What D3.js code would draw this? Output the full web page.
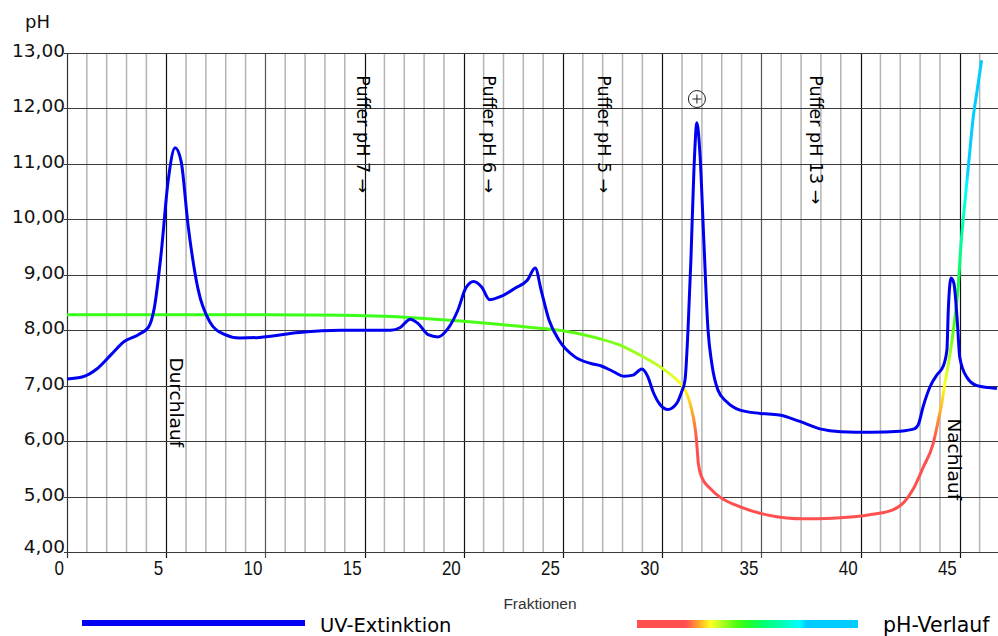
<!DOCTYPE html>
<html>
<head>
<meta charset="utf-8">
<script src="https://cdn.jsdelivr.net/npm/d3@7"></script>
<style>
  body { margin: 0; background: #fff; }
  svg { display: block; }
</style>
</head>
<body>
<svg id="chart"></svg>
<script>
// UV-Extinktion (blue): fraction -> value on the pH scale
const uvFrac = [0, 0.8, 1.5, 2.2, 2.9, 3.6, 4.1, 4.4, 4.75, 5.1, 5.45, 5.75, 6.1, 6.6, 7.2, 7.9, 8.7, 9.7, 11.7, 13.8,
  16.3, 16.8, 17.3, 17.7, 18.2, 18.7, 19.2, 19.7, 20.1, 20.5, 20.9, 21.3, 21.8, 22.6, 23.2, 23.6, 23.9, 24.3, 24.8, 25.6,
  26.4, 26.9, 27.5, 28.1, 28.53, 28.97, 29.28, 29.54, 29.89, 30.29, 30.73, 30.98, 31.15, 31.3, 31.45, 31.6, 31.75, 31.9, 32.1, 32.31,
  32.5, 32.81, 33.25, 33.92, 34.93, 35.9, 36.9, 37.95, 39.0, 40.5, 42.0, 42.7, 42.9, 43.15, 43.5, 43.9, 44.15, 44.35, 44.42, 44.56,
  44.7, 44.86, 45.0, 45.36, 45.87, 46.87];
const uvVal = [7.12, 7.16, 7.3, 7.55, 7.8, 7.92, 8.05, 8.4, 9.4, 10.7, 11.29, 11.05, 9.9, 8.75, 8.15, 7.93, 7.86, 7.87, 7.96, 8.0,
  8.0, 8.05, 8.2, 8.12, 7.92, 7.88, 8.03, 8.36, 8.76, 8.88, 8.78, 8.55, 8.6, 8.76, 8.9, 9.12, 8.72, 8.18, 7.82, 7.52,
  7.4, 7.36, 7.26, 7.17, 7.19, 7.3, 7.16, 6.89, 6.66, 6.57, 6.68, 6.89, 7.1, 8.0, 9.3, 10.9, 11.74, 11.2, 9.6, 8.0,
  7.4, 6.92, 6.71, 6.56, 6.5, 6.47, 6.36, 6.22, 6.17, 6.16, 6.18, 6.22, 6.29, 6.62, 6.98, 7.22, 7.34, 7.64, 8.36, 8.94,
  8.85, 8.23, 7.51, 7.15, 7.0, 6.95];

// pH-Verlauf (gradient line)
const phFrac = [0, 5, 10, 14, 16, 18, 20, 22, 24, 25.5, 26.8, 27.87, 28.88, 29.89, 30.65, 31.05, 31.3, 31.49, 31.65, 31.73,
  31.82, 31.99, 32.41, 32.91, 33.75, 34.93, 35.43, 37.1, 38.6, 40.6, 41.63, 42.2, 42.66, 43.16, 43.66, 43.92, 44.09, 44.25, 44.51, 44.76,
  44.93, 45.05, 45.17, 45.35, 45.51, 45.68, 45.85, 46.1];
const phVal = [8.28, 8.28, 8.28, 8.27, 8.25, 8.21, 8.16, 8.1, 8.03, 7.96, 7.85, 7.73, 7.55, 7.34, 7.13, 6.98, 6.8, 6.56, 6.26, 6.01,
  5.6, 5.35, 5.15, 4.99, 4.84, 4.7, 4.66, 4.6, 4.61, 4.68, 4.76, 4.9, 5.14, 5.53, 5.96, 6.38, 6.68, 7.04, 7.58, 8.24,
  8.84, 9.5, 10.0, 10.65, 11.25, 11.85, 12.27, 12.87];

// colour of the pH line by pH value
const colorPh = [4, 6.0, 6.35, 6.7, 7.0, 7.5, 8.0, 8.5, 9.2, 10.0, 10.6, 10.9, 13];
const colorHex = ["#ff5050", "#ff5050", "#ff8833", "#ffcc22", "#ffff22", "#aaff22", "#55ff11", "#22ff22", "#00ff77", "#00ffbb", "#00ffff", "#00ccff", "#00ccff"];

const xTicks = [0, 5, 10, 15, 20, 25, 30, 35, 40, 45];
const yTicks = [4, 5, 6, 7, 8, 9, 10, 11, 12, 13];

// rotated annotations
const noteText = ["Puffer pH 7 \u2192", "Puffer pH 6 \u2192", "Puffer pH 5 \u2192", "Puffer pH 13 \u2192", "Durchlauf", "Nachlauf"];
const noteFrac = [14.6, 20.97, 26.76, 37.45, 5.19, 44.4];
const notePh = [12.6, 12.6, 12.6, 12.6, 7.51, 6.41];

const markerPos = [31.75, 12.17];

class PhChart {

  constructor(_config) {
    this.config = {
      parentElement: _config.parentElement,
      containerWidth: _config.containerWidth || 998,
      containerHeight: _config.containerHeight || 636,
      margin: { top: 53, bottom: 84, right: 0, left: 67 }
    }
    this.initVis();
  }

  initVis() {
    let vis = this;

    vis.width = vis.config.containerWidth - vis.config.margin.left - vis.config.margin.right;
    vis.height = vis.config.containerHeight - vis.config.margin.top - vis.config.margin.bottom;

    vis.svg = d3.select(vis.config.parentElement)
        .attr('width', vis.config.containerWidth)
        .attr('height', vis.config.containerHeight);

    vis.chart = vis.svg.append('g')
        .attr('transform', `translate(${vis.config.margin.left},${vis.config.margin.top})`);

    vis.xScale = d3.scaleLinear()
        .domain([0, 47])
        .range([0, 19.84 * 47]);

    vis.yScale = d3.scaleLinear()
        .domain([4, 13])
        .range([vis.height, 0]);

    const fmt = d3.formatLocale({ decimal: ",", thousands: ".", grouping: [3], currency: ["", ""] }).format(".2f");

    // minor vertical grid
    vis.chart.append('g')
      .selectAll('line')
      .data(d3.range(1, 47).filter(d => d % 5 != 0))
      .join('line')
        .attr('x1', d => vis.xScale(d))
        .attr('x2', d => vis.xScale(d))
        .attr('y1', 0)
        .attr('y2', vis.height)
        .attr('stroke', '#b4b4b4')
        .attr('stroke-width', 1.5);

    // major vertical grid + ticks below axis
    vis.chart.append('g')
      .selectAll('line')
      .data(xTicks.filter(d => d > 0))
      .join('line')
        .attr('x1', d => Math.round(vis.xScale(d)) + 0.5)
        .attr('x2', d => Math.round(vis.xScale(d)) + 0.5)
        .attr('y1', 0)
        .attr('y2', vis.height + 6)
        .attr('stroke', d => (d == 10 || d == 35) ? '#555' : '#111')
        .attr('stroke-width', 1.2);

    // horizontal grid
    vis.chart.append('g')
      .selectAll('line')
      .data(yTicks)
      .join('line')
        .attr('x1', -3)
        .attr('x2', vis.width)
        .attr('y1', d => Math.round(vis.yScale(d)) + 0.5)
        .attr('y2', d => Math.round(vis.yScale(d)) + 0.5)
        .attr('stroke', '#3a3a3a')
        .attr('stroke-width', 1.2);

    // left axis line
    vis.chart.append('line')
        .attr('x1', 0.5).attr('x2', 0.5)
        .attr('y1', 0).attr('y2', vis.height + 6)
        .attr('stroke', '#333')
        .attr('stroke-width', 1.2);

    // y labels
    vis.chart.append('g')
      .selectAll('text')
      .data(yTicks)
      .join('text')
        .attr('x', -2)
        .attr('y', d => vis.yScale(d) + (d == 4 ? 1 : 4))
        .attr('text-anchor', 'end')
        .attr('font-family', 'DejaVu Sans, sans-serif')
        .attr('font-size', '18.5px')
        .attr('fill', '#111')
        .text(d => fmt(d));

    // x labels
    vis.chart.append('g')
      .selectAll('text')
      .data(xTicks)
      .join('text')
        .attr('transform', d => `translate(${vis.xScale(d) - 3},${vis.height + 23}) scale(0.85,1.05)`)
        .attr('text-anchor', 'end')
        .attr('font-family', 'Liberation Sans Narrow, Liberation Sans, sans-serif')
        .attr('font-size', '20px')
        .attr('fill', '#111')
        .text(d => d);

    vis.svg.append('text')
        .attr('x', 25)
        .attr('y', 28)
        .attr('font-family', 'DejaVu Sans, sans-serif')
        .attr('font-size', '18px')
        .attr('fill', '#111')
        .text('pH');

    vis.svg.append('text')
        .attr('x', 540)
        .attr('y', 609)
        .attr('text-anchor', 'middle')
        .attr('font-family', 'Liberation Sans, sans-serif')
        .attr('font-size', '15.5px')
        .attr('fill', '#333')
        .text('Fraktionen');

    // gradients: same stops for line (by pH, vertical) and legend (horizontal)
    const defs = vis.svg.append('defs');
    const lineGrad = defs.append('linearGradient')
        .attr('id', 'phLineGrad')
        .attr('gradientUnits', 'userSpaceOnUse')
        .attr('x1', 0).attr('x2', 0)
        .attr('y1', vis.yScale(4)).attr('y2', vis.yScale(13));
    const legendGrad = defs.append('linearGradient')
        .attr('id', 'phLegendGrad')
        .attr('x1', 0).attr('x2', 1).attr('y1', 0).attr('y2', 0);
    [lineGrad, legendGrad].forEach(g => {
      g.selectAll('stop')
        .data(colorPh)
        .join('stop')
          .attr('offset', d => ((d - 4) / 9 * 100) + '%')
          .attr('stop-color', (d, i) => colorHex[i]);
    });

    // annotations (rotated, reading downwards)
    vis.chart.append('g')
      .selectAll('text')
      .data(noteText)
      .join('text')
        .attr('transform', (d, i) => `translate(${vis.xScale(noteFrac[i])},${vis.yScale(notePh[i])}) rotate(90)`)
        .attr('font-family', 'DejaVu Sans, sans-serif')
        .attr('font-size', (d, i) => i < 4 ? '17.5px' : '18.5px')
        .attr('fill', '#000')
        .text(d => d);

    const mk = vis.chart.append('g')
        .attr('transform', `translate(${vis.xScale(markerPos[0])},${vis.yScale(markerPos[1])})`);
    mk.append('circle').attr('r', 8.5).attr('fill', 'none').attr('stroke', '#222').attr('stroke-width', 1);
    mk.append('path').attr('d', 'M-4.5,0H4.5M0,-4.5V4.5').attr('stroke', '#222').attr('stroke-width', 1);

    // legend
    vis.svg.append('line')
        .attr('x1', 82).attr('x2', 305)
        .attr('y1', 623).attr('y2', 623)
        .attr('stroke', '#0000f5')
        .attr('stroke-width', 6);
    vis.svg.append('text')
        .attr('x', 320).attr('y', 632)
        .attr('font-family', 'DejaVu Sans, sans-serif')
        .attr('font-size', '19.5px')
        .attr('fill', '#000')
        .text('UV-Extinktion');
    vis.svg.append('rect')
        .attr('x', 637).attr('y', 620)
        .attr('width', 221).attr('height', 8)
        .attr('fill', 'url(#phLegendGrad)');
    vis.svg.append('text')
        .attr('x', 883).attr('y', 632)
        .attr('font-family', 'DejaVu Sans, sans-serif')
        .attr('font-size', '20.5px')
        .attr('fill', '#000')
        .text('pH-Verlauf');

    vis.updateVis();
  }

  updateVis() {
    let vis = this;

    const line = d3.line()
        .x(d => vis.xScale(d[0]))
        .y(d => vis.yScale(d[1]))
        .curve(d3.curveMonotoneX);

    vis.chart.append('path')
        .datum(phFrac.map((f, i) => [f, phVal[i]]))
        .attr('d', line)
        .attr('fill', 'none')
        .attr('stroke', 'url(#phLineGrad)')
        .attr('stroke-width', 3);

    vis.chart.append('path')
        .datum(uvFrac.map((f, i) => [f, uvVal[i]]))
        .attr('d', line)
        .attr('fill', 'none')
        .attr('stroke', '#0000f0')
        .attr('stroke-width', 3);
  }
}

new PhChart({ parentElement: '#chart' });
</script>
</body>
</html>
